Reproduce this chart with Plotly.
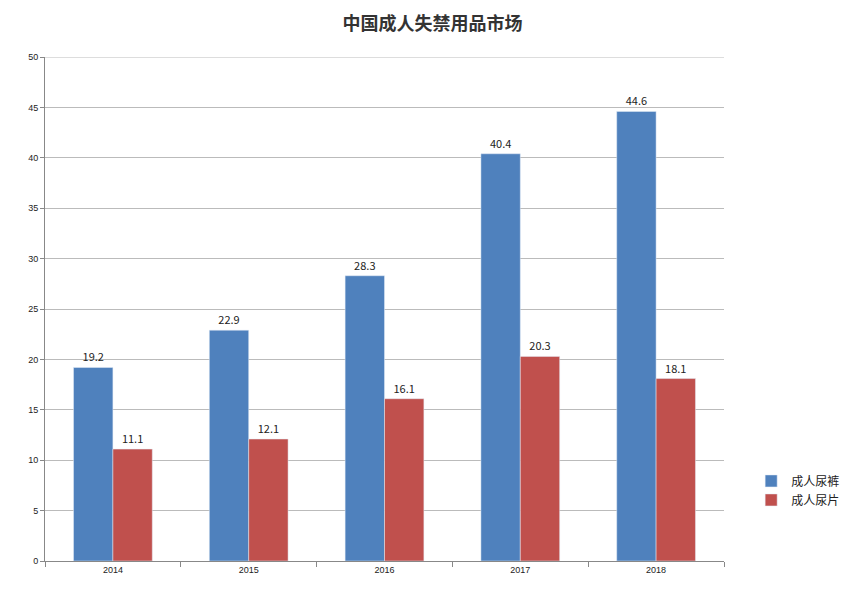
import plotly.graph_objects as go

years = ["2014", "2015", "2016", "2017", "2018"]
diapers = [19.2, 22.9, 28.3, 40.4, 44.6]
pads = [11.1, 12.1, 16.1, 20.3, 18.1]
names = ["成人尿裤", "成人尿片"]

fig = go.Figure()
fig.add_bar(x=years, y=diapers, name=names[0], marker_color="#4F81BD",
            text=[str(v) for v in diapers], textposition="outside", cliponaxis=False)
fig.add_bar(x=years, y=pads, name=names[1], marker_color="#C0504D",
            text=[str(v) for v in pads], textposition="outside", cliponaxis=False)
fig.update_traces(textfont=dict(size=11, color="#222"))
fig.update_layout(
    width=849, height=603, barmode="group", bargap=0.42, bargroupgap=0,
    plot_bgcolor="white", paper_bgcolor="white",
    font=dict(family="Noto Sans CJK SC", color="#333"),
    title=dict(text="<b>中国成人失禁用品市场</b>", x=0.5, xanchor="center", y=0.985, yanchor="top",
               font=dict(size=18, color="#333")),
    margin=dict(l=37, r=82, t=49, b=50),
    xaxis=dict(showline=True, linecolor="#888", tickfont=dict(size=9, color="#222", family="Liberation Sans"),
               ticks="outside", ticklen=5, tickcolor="#888", tickson="boundaries", mirror=False),
    yaxis=dict(range=[0, 50], dtick=5, showgrid=True, gridcolor="#bbb", showline=True, linecolor="#888",
               ticks="outside", ticklen=4, tickcolor="#888",
               tickfont=dict(size=9, color="#222", family="Liberation Sans"), zeroline=False),
    legend=dict(x=1.04, y=0.14, xanchor="left", yanchor="middle", tracegroupgap=18,
                font=dict(size=12, color="#222"), itemwidth=30),
    showlegend=True,
)
fig.add_shape(type="line", xref="paper", yref="y", x0=0, x1=1, y0=50, y1=50,
              line=dict(color="#bbb", width=1))
fig.write_html("out.html")
